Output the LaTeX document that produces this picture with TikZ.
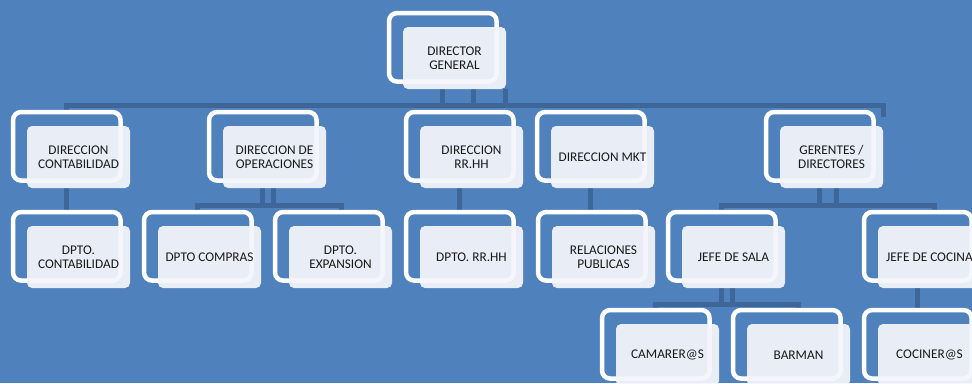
\documentclass[tikz,border=0pt]{standalone}
\usepackage{fontspec}
\setmainfont{Carlito}
\usetikzlibrary{calc}
\definecolor{bgblue}{RGB}{79,129,189}
\definecolor{connc}{RGB}{62,102,153}
\definecolor{boxfill}{RGB}{244,246,251}
\definecolor{txtc}{RGB}{25,25,25}
\pgfdeclarelayer{back}
\pgfdeclarelayer{frames}
\pgfsetlayers{back,frames,main}
\newcommand\orgnode[4]{%
  \node[tbox] (#1) at (#2+51.5,#3+31) {#4};
  \coordinate (#1-top) at (#2+39.5,#3-16);
  \coordinate (#1-bot) at (#2+39.5,#3+62);
  \begin{pgfonlayer}{frames}
  \draw[framebox] ([shift={(-13.75,-13.75)}]#1.north west) rectangle ([shift={(93.75,54.75)}]#1.north west);
  \end{pgfonlayer}}
\begin{document}
\begin{tikzpicture}[x=1pt,y=-1pt,
  tbox/.style={rectangle, rounded corners=5pt, fill=boxfill, fill opacity=0.93, text opacity=1,
    minimum width=103pt, minimum height=62pt, inner sep=0pt, align=center, text=txtc,
    font=\fontsize{13.3}{13.8}\selectfont},
  framebox/.style={draw=white, line width=4.5pt, rounded corners=8pt},
  conn/.style={draw=connc, line width=5pt}]
\useasboundingbox (0,0) rectangle (972,383);
\begin{pgfonlayer}{back}
\fill[bgblue] (0,0) rectangle (972,383);
\end{pgfonlayer}
% level 0
\orgnode{dg}{403}{27}{DIRECTOR\\GENERAL}
% level 1
\orgnode{dcon}{27}{126}{DIRECCION\\CONTABILIDAD}
\orgnode{dop}{223}{126}{DIRECCION DE\\OPERACIONES}
\orgnode{drh}{420}{126}{DIRECCION\\RR.HH}
\orgnode{dmkt}{551}{126}{DIRECCION MKT}
\orgnode{ger}{780}{126}{GERENTES /\\DIRECTORES}
% level 2
\orgnode{pcon}{27}{226}{DPTO.\\CONTABILIDAD}
\orgnode{comp}{158}{226}{DPTO COMPRAS}
\orgnode{exp}{289}{226}{DPTO.\\EXPANSION}
\orgnode{prh}{420}{226}{DPTO. RR.HH}
\orgnode{rel}{552}{226}{RELACIONES\\PUBLICAS}
\orgnode{jsal}{682}{226}{JEFE DE SALA}
\orgnode{jcoc}{878}{226}{JEFE DE COCINA}
% level 3
\orgnode{cam}{616}{324}{CAMARER@S}
\orgnode{barman}{747}{324}{BARMAN}
\orgnode{coc}{878}{324}{COCINER@S}
% connectors
\coordinate (bar0r) at (883,105.5);
\coordinate (bar1r) at (341,205.5);
\coordinate (bar2r) at (934.5,205.5);
\coordinate (bar3r) at (798.5,304.5);
\begin{pgfonlayer}{back}
\draw[conn] (dg-bot) -- ++(0,16.5);
\draw[conn] ([xshift=31pt]dg-bot) -- ++(0,16.5);
\draw[conn] ([xshift=63pt]dg-bot) -- ++(0,16.5);
\draw[conn] (dcon-top) |- (bar0r) -- ++(0,11.5);
\draw[conn] (dcon-bot) -- (pcon-top);
\draw[conn] (dop-bot) -- ++(0,17);
\draw[conn] ([xshift=11pt]dop-bot) -- ++(0,17);
\draw[conn] (comp-top) |- (bar1r) -- (bar1r |- exp-top);
\draw[conn] (drh-bot) -- (prh-top);
\draw[conn] (dmkt-bot) -- (dmkt-bot |- rel-top);
\draw[conn] (ger-bot) -- ++(0,17);
\draw[conn] ([xshift=17pt]ger-bot) -- ++(0,17);
\draw[conn] (jsal-top) |- (bar2r) -- (bar2r |- jcoc-top);
\draw[conn] (jsal-bot) -- ++(0,16);
\draw[conn] ([xshift=11pt]jsal-bot) -- ++(0,16);
\draw[conn] (cam-top) |- (bar3r) -- (bar3r |- barman-top);
\draw[conn] (jcoc-bot) -- (coc-top);
\end{pgfonlayer}
\end{tikzpicture}
\end{document}
